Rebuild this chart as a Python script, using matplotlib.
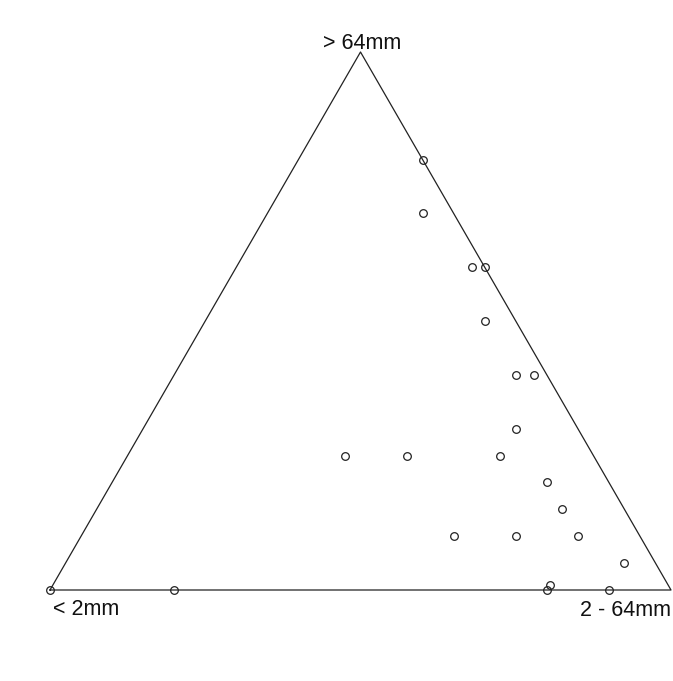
import numpy as np
import matplotlib.pyplot as plt

plt.rcParams['font.family'] = ['Liberation Sans', 'DejaVu Sans']

# sample fractions: fine (< 2mm), medium (2 - 64mm), coarse (> 64mm)
fine   = [0.00, 0.05, 0.02, 0.00, 0.05, 0.05, 0.02, 0.10, 0.40, 0.30, 0.15,
          0.10, 0.10, 0.30, 0.20, 0.10, 0.05, 0.19, 0.20, 0.10, 0.80, 1.00]
medium = [0.20, 0.25, 0.38, 0.40, 0.45, 0.55, 0.58, 0.60, 0.35, 0.45, 0.60,
          0.70, 0.75, 0.60, 0.70, 0.80, 0.90, 0.80, 0.80, 0.90, 0.20, 0.00]
coarse = [0.80, 0.70, 0.60, 0.60, 0.50, 0.40, 0.40, 0.30, 0.25, 0.25, 0.25,
          0.20, 0.15, 0.10, 0.10, 0.10, 0.05, 0.01, 0.00, 0.00, 0.00, 0.00]

labels = ["< 2mm", "2 - 64mm", "> 64mm"]

h = np.sqrt(3) / 2


def to_xy(l, r, t):
    l, r, t = np.asarray(l), np.asarray(r), np.asarray(t)
    s = l + r + t
    return (r + t / 2) / s, (t * h) / s


fig = plt.figure(figsize=(6.73, 6.81), dpi=100)
ax = fig.add_axes([50 / 673, 91 / 681, 621 / 673, 538 / 681])
ax.set_xlim(0, 1)
ax.set_ylim(0, h)
ax.axis('off')

# triangle frame
ax.plot([0, 1, 0.5, 0], [0, 0, h, 0], color='#222222', lw=0.9, clip_on=False)

x, y = to_xy(fine, medium, coarse)
ax.plot(x, y, 'o', ms=5.5, mfc='none', mec='#222222', mew=0.9, clip_on=False)

fs = 15.5
ax.annotate(labels[0], (0, 0), xytext=(2, -18), textcoords='offset points',
            ha='left', va='baseline', fontsize=fs, color='#111111')
ax.annotate(labels[1], (1, 0), xytext=(0, -18.5), textcoords='offset points',
            ha='right', va='baseline', fontsize=fs, color='#111111')
ax.annotate(labels[2], (0.5, h), xytext=(1, 2), textcoords='offset points',
            ha='center', va='baseline', fontsize=fs, color='#111111')

fig.savefig('out.png', dpi=100)
